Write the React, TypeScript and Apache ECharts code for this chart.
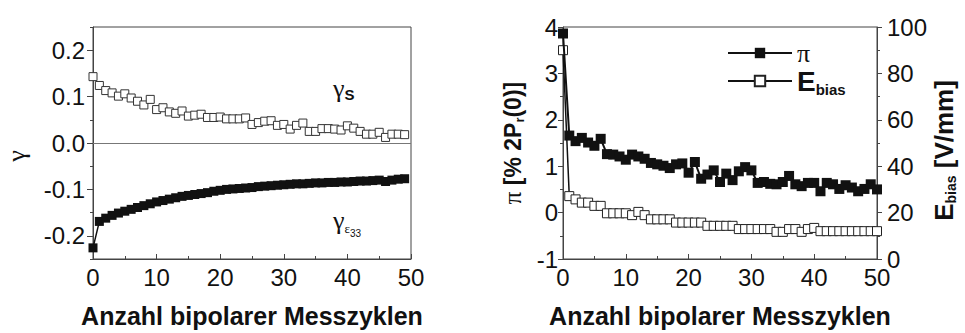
import React, { useEffect, useRef } from 'react';
import * as echarts from 'echarts';

const cyclesLeft = [0,1,2,3,4,5,6,7,8,9,10,11,12,13,14,15,16,17,18,19,20,21,22,23,24,25,26,27,28,29,30,31,32,33,34,35,36,37,38,39,40,41,42,43,44,45,46,47,48,49];
const cyclesRight = [0,1,2,3,4,5,6,7,8,9,10,11,12,13,14,15,16,17,18,19,20,21,22,23,24,25,26,27,28,29,30,31,32,33,34,35,36,37,38,39,40,41,42,43,44,45,46,47,48,49,50];

const gammaS = [
  0.143,0.124,0.113,0.108,0.101,0.106,0.097,0.090,0.082,0.094,
  0.072,0.076,0.067,0.064,0.069,0.058,0.060,0.062,0.055,0.055,
  0.056,0.052,0.052,0.052,0.054,0.040,0.044,0.047,0.048,0.038,
  0.040,0.030,0.038,0.043,0.025,0.025,0.031,0.031,0.030,0.028,
  0.037,0.032,0.025,0.019,0.019,0.023,0.012,0.019,0.019,0.018,
];
const gammaEps = [
  -0.226,-0.169,-0.162,-0.156,-0.151,-0.147,-0.143,-0.139,-0.135,-0.131,
  -0.127,-0.124,-0.121,-0.118,-0.115,-0.113,-0.111,-0.109,-0.107,-0.104,
  -0.102,-0.100,-0.099,-0.098,-0.097,-0.096,-0.094,-0.093,-0.092,-0.091,
  -0.090,-0.089,-0.088,-0.088,-0.087,-0.086,-0.086,-0.085,-0.085,-0.084,
  -0.084,-0.083,-0.082,-0.082,-0.081,-0.080,-0.083,-0.080,-0.078,-0.077,
];
const piValues = [
  3.86,1.66,1.54,1.61,1.51,1.44,1.59,1.26,1.25,1.21,
  1.14,1.25,1.21,1.16,1.07,1.04,1.01,0.96,1.04,1.06,
  0.86,1.09,0.73,0.82,0.91,0.66,0.84,0.70,0.89,0.98,
  0.91,0.64,0.66,0.62,0.61,0.66,0.79,0.61,0.57,0.64,
  0.64,0.46,0.64,0.61,0.51,0.59,0.54,0.46,0.51,0.61,
  0.50,
];
const eBias = [
  90,27.1,25.7,24.3,24.3,22.9,22.9,19.7,19.7,19.7,
  19.7,18.9,20.3,18.9,17.1,17.1,17.1,17.1,15.7,15.7,
  15.7,15.7,15.7,14.3,14.3,14.3,14.3,14.3,12.9,12.9,
  12.9,12.9,12.9,12.9,11.7,11.7,12.9,12.9,11.7,12.9,
  13.4,12.0,12.0,12.0,12.0,12.0,12.0,12.0,12.0,12.0,
  12.0,
];
const gammaTicks = [-0.2, -0.1, 0, 0.1, 0.2];

const SANS = '"Liberation Sans", Arial, sans-serif';
const SERIF = '"Liberation Serif", "DejaVu Serif", serif';
const INK = '#111';
const FRAME = '#444';

export default function App() {
  const ref = useRef<HTMLDivElement>(null);
  useEffect(() => {
    if (!ref.current) return;
    const chart = echarts.init(ref.current, undefined, { renderer: 'svg' });
    const tickLabel = { fontFamily: SANS, fontSize: 24, color: INK };
    const xTitle = { fontFamily: SANS, fontSize: 25, fontWeight: 'bold' as const, color: INK };
    const xAxisBase = (gridIndex: number) => ({
      type: 'value' as const,
      gridIndex,
      min: 0,
      max: 50,
      interval: 10,
      name: 'Anzahl bipolarer Messzyklen',
      nameLocation: 'middle' as const,
      nameGap: 44,
      nameTextStyle: xTitle,
      axisLine: { show: true, onZero: false, lineStyle: { color: FRAME, width: 1 } },
      axisTick: { show: true, inside: true, length: 5, lineStyle: { color: FRAME } },
      minorTick: { show: true, splitNumber: 2, length: 3, lineStyle: { color: FRAME } },
      axisLabel: { ...tickLabel, margin: 6 },
      splitLine: { show: false },
    });
    const option: any = {
      animation: false,
      backgroundColor: '#fff',
      grid: [
        { left: 93, width: 318, top: 27, height: 235, show: true, borderColor: FRAME, borderWidth: 1, backgroundColor: 'transparent' },
        { left: 563, width: 314, top: 27, height: 233, show: true, borderColor: FRAME, borderWidth: 1, backgroundColor: 'transparent' },
      ],
      xAxis: [xAxisBase(0), xAxisBase(1)],
      yAxis: [
        {
          type: 'value', gridIndex: 0, position: 'left', min: -0.25, max: 0.25, interval: 0.05,
          name: 'γ', nameLocation: 'middle', nameRotate: 90, nameGap: 64,
          nameTextStyle: { fontFamily: SERIF, fontSize: 26, color: INK, padding: [0, 26, 0, 0] },
          axisLine: { show: true, onZero: false, lineStyle: { color: FRAME } },
          axisTick: { show: true, length: 6, customValues: gammaTicks, lineStyle: { color: FRAME } },
          axisLabel: { ...tickLabel, margin: 8, customValues: gammaTicks, formatter: (v: number) => v.toFixed(1) },
          splitLine: { show: false },
        },
        {
          type: 'value', gridIndex: 0, position: 'left', min: -0.25, max: 0.25, interval: 0.05,
          axisLine: { show: false, onZero: false },
          axisTick: { show: true, length: 3, lineStyle: { color: FRAME } },
          axisLabel: { show: false },
          splitLine: { show: false },
        },
        {
          type: 'value', gridIndex: 1, position: 'left', min: -1, max: 4, interval: 1,
          name: '{p|π}{b| [% 2P}{s|r}{b|(0)]}', nameLocation: 'middle', nameRotate: 90, nameGap: 37,
          nameTextStyle: {
            color: INK,
            rich: {
              p: { fontFamily: SERIF, fontSize: 25, color: INK },
              b: { fontFamily: SANS, fontSize: 23, fontWeight: 'bold', color: INK },
              s: { fontFamily: SANS, fontSize: 13, fontWeight: 'bold', color: INK, padding: [14, 0, 0, 0] },
            },
          },
          axisLine: { show: true, onZero: false, lineStyle: { color: FRAME } },
          axisTick: { show: true, length: 5, lineStyle: { color: FRAME } },
          minorTick: { show: true, splitNumber: 2, length: 3, lineStyle: { color: FRAME } },
          axisLabel: { ...tickLabel, margin: 5 },
          splitLine: { show: false },
        },
        {
          type: 'value', gridIndex: 1, position: 'right', min: 0, max: 100, interval: 20,
          name: '{e|E}{s|bias}{b| [V/mm]}', nameLocation: 'middle', nameRotate: 90, nameGap: 48,
          nameTextStyle: {
            color: INK,
            padding: [0, 15, 0, 0],
            rich: {
              e: { fontFamily: SANS, fontSize: 26, fontWeight: 'bold', color: INK },
              b: { fontFamily: SANS, fontSize: 26, fontWeight: 'bold', color: INK },
              s: { fontFamily: SANS, fontSize: 14, fontWeight: 'bold', color: INK, padding: [15, 0, 0, 0] },
            },
          },
          axisLine: { show: true, onZero: false, lineStyle: { color: FRAME } },
          axisTick: { show: true, length: 5, lineStyle: { color: FRAME } },
          minorTick: { show: true, splitNumber: 2, length: 3, lineStyle: { color: FRAME } },
          axisLabel: { ...tickLabel, margin: 10 },
          splitLine: { show: false },
        },
      ],
      legend: [
        {
          data: ['π'], left: 727, top: 40, padding: 0, itemWidth: 64, itemHeight: 13,
          formatter: () => '{p|π}',
          textStyle: { rich: { p: { fontFamily: SERIF, fontSize: 26, color: INK } } },
        },
        {
          data: ['Ebias'], left: 727, top: 67, padding: 0, itemWidth: 64, itemHeight: 13,
          formatter: () => '{e|E}{s|bias}',
          textStyle: {
            rich: {
              e: { fontFamily: SANS, fontSize: 28, fontWeight: 'bold', color: INK },
              s: { fontFamily: SANS, fontSize: 15, fontWeight: 'bold', color: INK, padding: [16, 0, 0, 0] },
            },
          },
        },
      ],
      graphic: [
        {
          type: 'text', x: 333, y: 88,
          style: {
            text: '{g|γ}{s|S}', verticalAlign: 'middle', align: 'left',
            rich: {
              g: { fontFamily: SERIF, fontSize: 26, fill: INK },
              s: { fontFamily: SANS, fontSize: 15, fontWeight: 'bold', fill: INK, padding: [12, 0, 0, 0] },
            },
          },
        },
        {
          type: 'text', x: 333, y: 220,
          style: {
            text: '{g|γ}{e|ε}{t|33}', verticalAlign: 'middle', align: 'left',
            rich: {
              g: { fontFamily: SERIF, fontSize: 26, fill: INK },
              e: { fontFamily: SERIF, fontSize: 13, fill: INK, padding: [16, 0, 0, 0] },
              t: { fontFamily: SANS, fontSize: 10, fill: INK, padding: [26, 0, 0, 0] },
            },
          },
        },
      ],
      series: [
        {
          name: 'γS', type: 'line', xAxisIndex: 0, yAxisIndex: 0,
          data: cyclesLeft.map((x, i) => [x, gammaS[i]]),
          symbol: 'rect', symbolSize: 8, showSymbol: true,
          lineStyle: { width: 0, opacity: 0 },
          itemStyle: { color: '#fff', borderColor: '#333', borderWidth: 1 },
          markLine: {
            silent: true, symbol: 'none', label: { show: false },
            lineStyle: { color: '#777', width: 1, type: 'solid' },
            data: [{ yAxis: 0 }],
          },
          z: 3,
        },
        {
          name: 'γε33', type: 'line', xAxisIndex: 0, yAxisIndex: 0,
          data: cyclesLeft.map((x, i) => [x, gammaEps[i]]),
          symbol: 'rect', symbolSize: 9,
          lineStyle: { color: INK, width: 1.5 },
          itemStyle: { color: INK, borderColor: INK, borderWidth: 0 },
          z: 3,
        },
        {
          name: 'Ebias', type: 'line', xAxisIndex: 1, yAxisIndex: 3,
          data: cyclesRight.map((x, i) => [x, eBias[i]]),
          symbol: 'rect', symbolSize: 9,
          lineStyle: { color: INK, width: 1.5 },
          itemStyle: { color: '#fff', borderColor: '#222', borderWidth: 1 },
          z: 3,
        },
        {
          name: 'π', type: 'line', xAxisIndex: 1, yAxisIndex: 2,
          data: cyclesRight.map((x, i) => [x, piValues[i]]),
          symbol: 'rect', symbolSize: 10,
          lineStyle: { color: INK, width: 2 },
          itemStyle: { color: INK, borderColor: INK, borderWidth: 0 },
          z: 4,
        },
      ],
    };
    chart.setOption(option);
    return () => chart.dispose();
  }, []);
  return <div ref={ref} style={{ width: 965, height: 333, position: 'absolute', left: 0, top: 0 }} />;
}
